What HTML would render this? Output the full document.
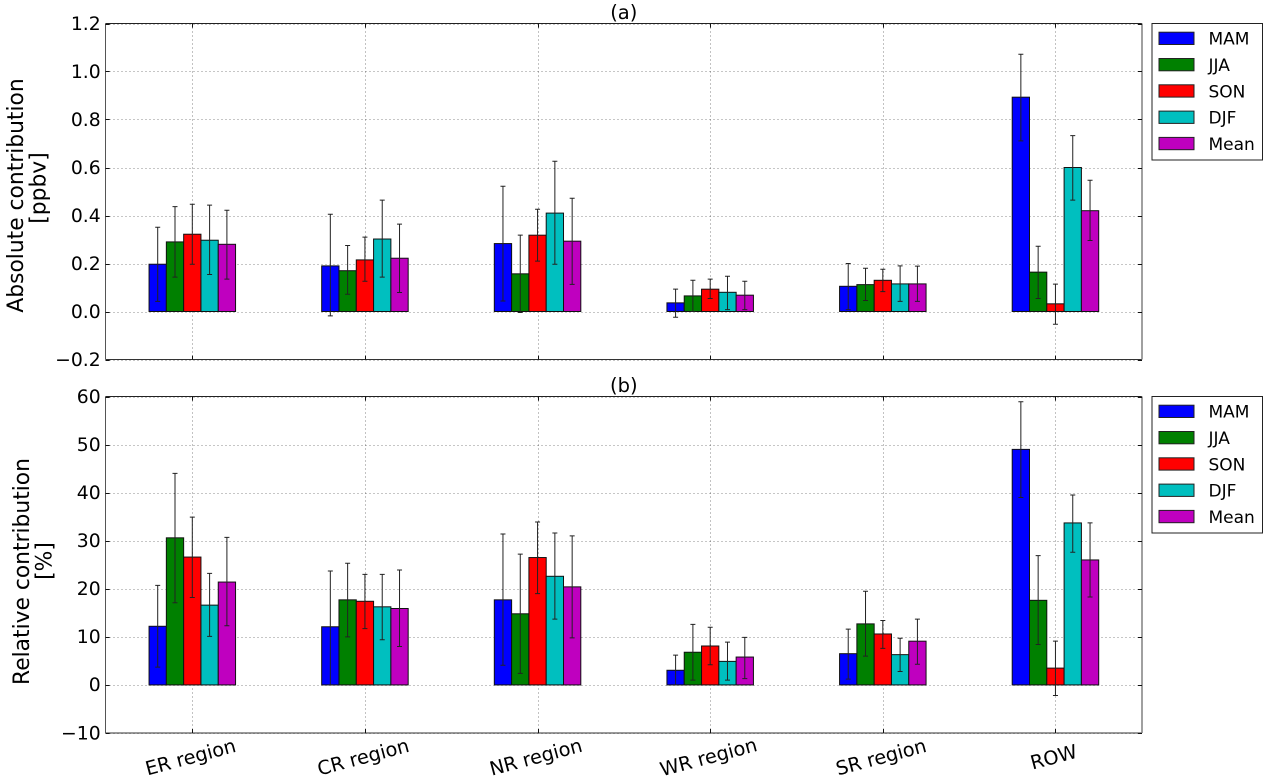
<!DOCTYPE html>
<html lang="en">
<head>
<meta charset="utf-8">
<title>Absolute and relative contribution by region</title>
<style>
html,body{margin:0;padding:0;background:#fff;width:1264px;height:776px;overflow:hidden}
svg{display:block;font-family:"DejaVu Sans","Liberation Sans",sans-serif;fill:#000;filter:blur(0.35px)}
</style>
</head>
<body>
<svg id="chart" xmlns="http://www.w3.org/2000/svg" width="1264" height="776" viewBox="0 0 1264 776">
<rect x="0" y="0" width="1264" height="776" fill="#fff"/>
</svg>
<script>
const regions = ['ER region','CR region','NR region','WR region','SR region','ROW'];
const seasons = ['MAM','JJA','SON','DJF','Mean'];
const seasonColors = ['#0000ff','#008000','#ff0000','#00bfbf','#bf00bf'];

const absTicks = [-0.2,0,0.2,0.4,0.6,0.8,1.0,1.2];
const absTickLabels = ['\u22120.2','0.0','0.2','0.4','0.6','0.8','1.0','1.2'];
const absMAM  = [0.197,0.190,0.283,0.036,0.105,0.893];
const absJJA  = [0.290,0.170,0.157,0.065,0.112,0.164];
const absSON  = [0.322,0.215,0.318,0.093,0.130,0.032];
const absDJF  = [0.297,0.302,0.410,0.080,0.115,0.600];
const absMean = [0.280,0.222,0.293,0.068,0.115,0.420];
const absMAMHigh  = [0.351,0.405,0.522,0.093,0.200,1.072];
const absJJAHigh  = [0.437,0.275,0.318,0.130,0.180,0.272];
const absSONHigh  = [0.447,0.310,0.426,0.135,0.176,0.114];
const absDJFHigh  = [0.443,0.464,0.626,0.147,0.190,0.733];
const absMeanHigh = [0.422,0.364,0.472,0.126,0.189,0.547];
const absMAMLow  = [0.042,-0.018,0.044,-0.024,0.008,0.711];
const absJJALow  = [0.143,0.072,-0.004,0.000,0.046,0.054];
const absSONLow  = [0.197,0.126,0.210,0.054,0.083,-0.053];
const absDJFLow  = [0.154,0.143,0.197,0.008,0.042,0.464];
const absMeanLow = [0.135,0.079,0.113,0.008,0.042,0.296];

const relTicks = [-10,0,10,20,30,40,50,60];
const relTickLabels = ['\u221210','0','10','20','30','40','50','60'];
const relMAM  = [12.2,12.1,17.7,3.05,6.5,49.0];
const relJJA  = [30.6,17.7,14.8,6.8,12.7,17.6];
const relSON  = [26.6,17.4,26.5,8.1,10.6,3.5];
const relDJF  = [16.6,16.25,22.6,4.9,6.3,33.7];
const relMean = [21.4,15.9,20.4,5.8,9.1,26.0];
const relMAMHigh  = [20.7,23.7,31.4,6.2,11.6,58.9];
const relJJAHigh  = [44.0,25.3,27.2,12.6,19.5,26.9];
const relSONHigh  = [34.9,23.0,33.9,12.0,13.4,9.1];
const relDJFHigh  = [23.2,23.0,31.6,8.9,9.7,39.5];
const relMeanHigh = [30.7,23.9,31.0,9.9,13.7,33.7];
const relMAMLow  = [3.7,0.0,4.1,0.0,1.2,39.0];
const relJJALow  = [17.1,10.0,2.4,1.0,6.0,8.4];
const relSONLow  = [18.2,11.7,19.0,4.2,7.6,-2.2];
const relDJFLow  = [10.1,9.4,13.7,1.0,2.8,27.6];
const relMeanLow = [12.3,8.0,9.8,1.3,4.3,18.3];

const svg = document.getElementById('chart');
const NS = 'http://www.w3.org/2000/svg';
const axLeft = 105.5, axRight = 1142;
const firstGroup = 192.3, groupStep = 172.63, barW = 17.3, capHalf = 2.5;

function mk(tag, parent) {
  const el = document.createElementNS(NS, tag);
  parent.appendChild(el);
  return el;
}
function setAll(el, props) {
  for (const k in props) el.setAttribute(k, props[k]);
  return el;
}
function xBand(regionIndex) { return firstGroup + groupStep * regionIndex; }

function drawPanel(cfg) {
  const yScale = v => cfg.top + (cfg.max - v) / (cfg.max - cfg.min) * (cfg.bottom - cfg.top);
  const g = mk('g', svg);
  
  

  // grid
  const grid = mk('g', g);
  
  
  cfg.ticks.forEach(t => {
    const y = Math.round(yScale(t)) + 0.5;
    const l = mk('line', grid);
    setAll(l, {x1: axLeft, x2: axRight, y1: y, y2: y, stroke: '#000', 'stroke-width': 0.8, 'stroke-dasharray': '1 3', 'stroke-opacity': 0.6});
    
    
  });
  regions.forEach((r, i) => {
    const x = Math.round(xBand(i)) + 0.5;
    const l = mk('line', grid);
    setAll(l, {x1: x, x2: x, y1: cfg.top, y2: cfg.bottom, stroke: '#000', 'stroke-width': 0.8, 'stroke-dasharray': '1 3', 'stroke-opacity': 0.6});
    
    
  });

  // bars
  seasons.forEach((s, si) => {
    cfg.values[si].forEach((v, ri) => {
      const x = xBand(ri) + (si - 2.5) * barW;
      const y0 = yScale(0), y1 = yScale(v);
      const b = mk('rect', g);
      setAll(b, {x: x, y: Math.min(y0, y1), width: barW, height: Math.abs(y0 - y1), fill: seasonColors[si], stroke: '#111', 'stroke-width': 1});
      
      
    });
  });

  // error bars
  seasons.forEach((s, si) => {
    cfg.values[si].forEach((v, ri) => {
      const x = xBand(ri) + (si - 2) * barW;
      const hi = yScale(cfg.highs[si][ri]), lo = yScale(cfg.lows[si][ri]);
      const e = mk('path', g);
      setAll(e, {d: 'M' + x + ' ' + hi + 'V' + lo + 'M' + (x - capHalf) + ' ' + hi + 'H' + (x + capHalf) + 'M' + (x - capHalf) + ' ' + lo + 'H' + (x + capHalf), fill: 'none', stroke: '#222', 'stroke-width': 1});
      
      
    });
  });

  // frame
  const spineTop = mk('line', g);
  setAll(spineTop, {x1: axLeft, x2: axRight, y1: cfg.top, y2: cfg.top, stroke: '#222', 'stroke-width': 1});
  
  
  const spineBottom = mk('line', g);
  setAll(spineBottom, {x1: axLeft, x2: axRight, y1: cfg.bottom, y2: cfg.bottom, stroke: '#333', 'stroke-width': 1});
  
  
  const spineLeft = mk('line', g);
  setAll(spineLeft, {x1: axLeft, x2: axLeft, y1: cfg.top, y2: cfg.bottom, stroke: '#555', 'stroke-width': 1});
  
  
  const spineRight = mk('line', g);
  setAll(spineRight, {x1: axRight, x2: axRight, y1: cfg.top, y2: cfg.bottom, stroke: '#777', 'stroke-width': 1.4});
  
  

  // y ticks and labels
  cfg.ticks.forEach((t, i) => {
    const y = Math.round(yScale(t)) + 0.5;
    const m = mk('path', g);
    setAll(m, {d: 'M' + axLeft + ' ' + y + 'h4M' + axRight + ' ' + y + 'h-4', stroke: '#111', 'stroke-width': 1, fill: 'none'});
    
    
    const tx = mk('text', g);
    setAll(tx, {x: 100.7, y: yScale(t) + 6.3, 'text-anchor': 'end', 'font-size': 18.8});
    
    
    tx.textContent = cfg.tickLabels[i];
  });

  // x ticks
  regions.forEach((r, i) => {
    const x = Math.round(xBand(i)) + 0.5;
    const m = mk('path', g);
    setAll(m, {d: 'M' + x + ' ' + cfg.top + 'v4M' + x + ' ' + cfg.bottom + 'v-4', stroke: '#111', 'stroke-width': 1, fill: 'none'});
    
    
  });

  // title
  const title = mk('text', g);
  setAll(title, {x: 623.8, y: cfg.top - 4.7, 'text-anchor': 'middle', 'font-size': 19.5});
  
  
  title.textContent = cfg.title;

  // y axis title
  const t1 = mk('text', g);
  setAll(t1, {transform: 'translate(' + cfg.label1X + ' ' + cfg.label1Y + ') rotate(-90)', 'text-anchor': 'middle', 'font-size': 21.8});
  
  
  t1.textContent = cfg.label1;
  const t2 = mk('text', g);
  setAll(t2, {transform: 'translate(' + cfg.label2X + ' ' + cfg.label2Y + ') rotate(-90)', 'text-anchor': 'middle', 'font-size': 21.8});
  
  
  t2.textContent = cfg.label2;

  // legend
  const lg = mk('g', g);
  
  
  const box = mk('rect', lg);
  setAll(box, {x: 1152, y: cfg.top, width: 110.5, height: 136.5, fill: '#fff', stroke: '#222', 'stroke-width': 1});
  
  
  seasons.forEach((s, si) => {
    const y = cfg.top + 8.7 + si * 26.3;
    const h = mk('rect', lg);
    setAll(h, {x: 1159, y: y, width: 35, height: 12.3, fill: seasonColors[si], stroke: '#222', 'stroke-width': 1});
    
    
    const lt = mk('text', lg);
    setAll(lt, {x: 1208.5, y: y + 12.5, 'font-size': 17});
    
    
    lt.textContent = s;
  });
}

drawPanel({
  key: 'absolute', title: '(a)', top: 23.5, bottom: 359.5, min: -0.2, max: 1.2,
  ticks: absTicks, tickLabels: absTickLabels,
  values: [absMAM, absJJA, absSON, absDJF, absMean],
  highs: [absMAMHigh, absJJAHigh, absSONHigh, absDJFHigh, absMeanHigh],
  lows: [absMAMLow, absJJALow, absSONLow, absDJFLow, absMeanLow],
  label1: 'Absolute contribution', label1X: 23, label1Y: 195.5,
  label2: '[ppbv]', label2X: 45.5, label2Y: 188
});
drawPanel({
  key: 'relative', title: '(b)', top: 396.5, bottom: 733, min: -10, max: 60,
  ticks: relTicks, tickLabels: relTickLabels,
  values: [relMAM, relJJA, relSON, relDJF, relMean],
  highs: [relMAMHigh, relJJAHigh, relSONHigh, relDJFHigh, relMeanHigh],
  lows: [relMAMLow, relJJALow, relSONLow, relDJFLow, relMeanLow],
  label1: 'Relative contribution', label1X: 29, label1Y: 571.5,
  label2: '[%]', label2X: 51.5, label2Y: 561
});

regions.forEach((r, i) => {
  const t = mk('text', svg);
  setAll(t, {transform: 'translate(' + xBand(i) + ' 763.5) rotate(-15)', 'text-anchor': 'middle', 'font-size': 19.3});
  
  
  t.textContent = r;
});
</script>
</body>
</html>
